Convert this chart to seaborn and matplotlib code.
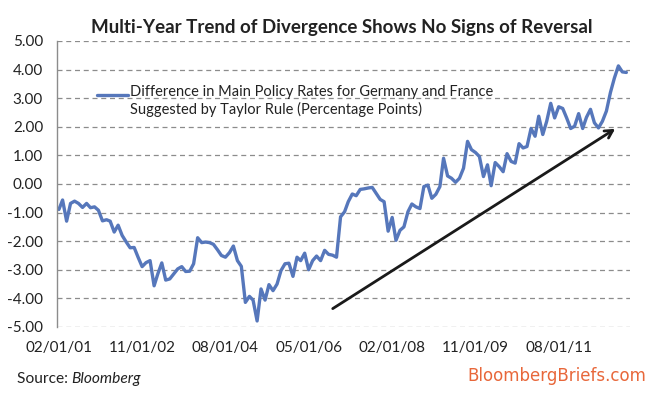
import matplotlib
matplotlib.use('Agg')
import matplotlib.pyplot as plt
import matplotlib.dates as mdates
import pandas as pd
import seaborn as sns

# Monthly series, Feb 2001 - Jan 2013
start_month = '2001-02-01'
spread = [
    -0.89, -0.56, -1.30, -0.68, -0.60, -0.68, -0.82, -0.68, -0.83, -0.80,
    -0.92, -1.29, -1.25, -1.30, -1.68, -1.44, -1.80, -2.02, -2.23, -2.22,
    -2.56, -2.89, -2.75, -2.68, -3.56, -3.15, -2.76, -3.36, -3.32, -3.15,
    -2.97, -2.89, -3.06, -3.05, -2.79, -1.88, -2.05, -2.03, -2.05, -2.11,
    -2.30, -2.50, -2.56, -2.40, -2.17, -2.68, -2.88, -4.14, -3.93, -4.06,
    -4.79, -3.67, -4.06, -3.52, -3.73, -3.50, -3.03, -2.79, -2.77, -3.23,
    -2.56, -2.68, -2.42, -3.00, -2.68, -2.52, -2.68, -2.32, -2.46, -2.49,
    -2.56, -1.15, -0.97, -0.62, -0.35, -0.41, -0.19, -0.17, -0.14, -0.12,
    -0.33, -0.54, -0.62, -1.65, -1.17, -1.97, -1.62, -1.50, -0.97, -0.70,
    -0.80, -0.86, -0.09, -0.04, -0.50, -0.36, -0.09, 0.90, 0.28, 0.20,
    0.06, 0.20, 0.55, 1.49, 1.20, 1.10, 0.96, 0.26, 0.67, -0.06,
    0.75, 0.61, 0.43, 1.06, 0.79, 0.73, 1.41, 1.26, 1.31, 1.94,
    1.67, 2.37, 1.73, 2.19, 2.82, 2.31, 2.70, 2.64, 2.31, 1.94,
    2.02, 2.46, 1.94, 2.33, 2.61, 2.14, 1.96, 2.19, 2.55, 3.20,
    3.70, 4.13, 3.92, 3.90,
]
tick_dates = ['2001-02-01', '2002-11-01', '2004-08-01', '2006-05-01',
              '2008-02-01', '2009-11-01', '2011-08-01']
y_ticks = [-5, -4, -3, -2, -1, 0, 1, 2, 3, 4, 5]

# trend arrow (date, value)
arrow_from = ('2006-10-15', -4.41)
arrow_to = ('2012-10-25', 1.98)

series_label = ('Difference in Main Policy Rates for Germany and France\n'
                'Suggested by Taylor Rule (Percentage Points)')

df = pd.DataFrame({
    'date': pd.date_range(start_month, periods=len(spread), freq='MS'),
    'spread': spread,
})

sns.set_style('white')
plt.rcParams['font.family'] = ['Lato', 'DejaVu Sans']

fig = plt.figure(figsize=(6.64, 3.93), dpi=100)
ax = fig.add_axes([0.0858, 0.168, 0.863, 0.7277])

sns.lineplot(data=df, x='date', y='spread', ax=ax, color='#5677bb',
             linewidth=2.4, label=series_label)

ax.set_ylim(-5, 5)
ax.set_yticks(y_ticks)
ax.yaxis.set_major_formatter(matplotlib.ticker.FormatStrFormatter('%.2f'))
ax.set_xlim(df['date'].iloc[0] - pd.Timedelta(days=15),
            df['date'].iloc[-1] + pd.Timedelta(days=28))
ax.set_xticks(pd.to_datetime(tick_dates))
ax.xaxis.set_major_formatter(mdates.DateFormatter('%m/%d/%y'))
ax.set_xlabel('')
ax.set_ylabel('')

ax.grid(axis='y', color='#8c8c8c', linestyle=(0, (4, 3)), linewidth=0.9)
ax.grid(axis='x', visible=False)
for side in ['top', 'right', 'bottom']:
    ax.spines[side].set_visible(False)
ax.spines['left'].set_color('#8c8c8c')
ax.spines['left'].set_linewidth(1.0)
ax.tick_params(axis='both', length=0, labelsize=11, colors='#222222')
ax.tick_params(axis='y', pad=10)
ax.tick_params(axis='x', pad=10)

ax.annotate('', xy=(pd.Timestamp(arrow_to[0]), arrow_to[1]),
            xytext=(pd.Timestamp(arrow_from[0]), arrow_from[1]),
            arrowprops=dict(arrowstyle='->,head_length=0.55,head_width=0.3',
                            color='#1a1a1a', lw=2.0))

ax.legend(loc='upper left', bbox_to_anchor=(0.146, 0.786),
          bbox_transform=fig.transFigure, frameon=False, fontsize=10.5,
          borderpad=0, borderaxespad=0, handlelength=2.1, handleheight=3.45,
          handletextpad=0.15, labelcolor='#222222')

fig.text(0.515, 0.93, 'Multi-Year Trend of Divergence Shows No Signs of Reversal',
         ha='center', va='center', fontsize=13.5, fontweight='bold',
         color='#222222')
src = fig.text(0.025, 0.0254, 'Source: ', ha='left', va='baseline',
               fontsize=11.2, color='#222222')
fig.add_artist(matplotlib.text.Annotation(
    'Bloomberg', xy=(1, 0), xycoords=src, ha='left', va='bottom',
    fontsize=11.2, style='italic', color='#222222'))
fig.text(0.973, 0.0305, 'BloombergBriefs.com', ha='right', va='baseline',
         fontsize=12, color='#e8673a', fontfamily='DejaVu Sans')

fig.savefig('out.png', dpi=100)
plt.close(fig)
